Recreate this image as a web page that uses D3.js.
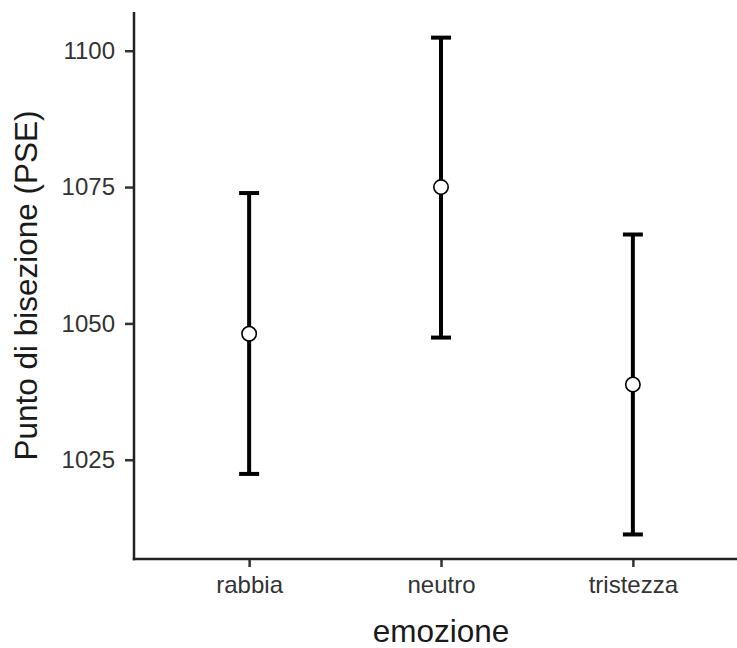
<!DOCTYPE html>
<html>
<head>
<meta charset="utf-8">
<script src="https://cdn.jsdelivr.net/npm/d3@7"></script>
<style>
  body { margin: 0; background: #fff; }
  text { font-family: "Liberation Sans", Arial, sans-serif; }
</style>
</head>
<body>
<svg id="chart" width="737" height="648"></svg>
<script>
// values
var emozioni = ['rabbia', 'neutro', 'tristezza'];
var pse = [1048.1, 1075.0, 1038.8];
var pseLow = [1022.4, 1047.4, 1011.3];
var pseHigh = [1073.9, 1102.4, 1066.3];
var yTicks = [1025, 1050, 1075, 1100];

var svg = d3.select('#chart'),
    pLeft = 134, pTop = 12, pBottom = 559, pRight = 748;

var x = d3.scalePoint().domain(emozioni).range([pLeft, pRight]).padding(0.6);
var y = d3.scaleLinear().domain([1006.8, 1107.1]).range([pBottom, pTop]);

var data = emozioni.map(function(e, i) {
  return { label: e, mean: pse[i], lo: pseLow[i], hi: pseHigh[i] };
});

// axes
var yAxis = svg.append('g')
  .attr('transform', 'translate(' + pLeft + ',0)')
  .call(d3.axisLeft(y).tickValues(yTicks).tickSize(9).tickPadding(10).tickFormat(d3.format('d')));
var xAxis = svg.append('g')
  .attr('transform', 'translate(0,' + pBottom + ')')
  .call(d3.axisBottom(x).tickSize(8).tickPadding(9));

[yAxis, xAxis].forEach(function(ax) {
  ax.select('.domain').remove();
  ax.selectAll('.tick line').attr('stroke', '#333').attr('stroke-width', 2.5);
  ax.selectAll('.tick text')
    .attr('fill', '#333')
    .style('font-size', '24px');
});

svg.append('line')
  .attr('x1', pLeft).attr('x2', pLeft)
  .attr('y1', pTop).attr('y2', pBottom + 1.25)
  .attr('stroke', '#222').attr('stroke-width', 2.5);
svg.append('line')
  .attr('x1', pLeft - 1.25).attr('x2', 737)
  .attr('y1', pBottom).attr('y2', pBottom)
  .attr('stroke', '#222').attr('stroke-width', 2.5);

// error bars
var bars = svg.append('g').selectAll('g').data(data).join('g');
bars.append('line')
  .attr('x1', function(d) { return x(d.label); })
  .attr('x2', function(d) { return x(d.label); })
  .attr('y1', function(d) { return y(d.lo); })
  .attr('y2', function(d) { return y(d.hi); })
  .attr('stroke', '#000').attr('stroke-width', 4);
['lo', 'hi'].forEach(function(k) {
  bars.append('line')
    .attr('x1', function(d) { return x(d.label) - 10; })
    .attr('x2', function(d) { return x(d.label) + 10; })
    .attr('y1', function(d) { return y(d[k]); })
    .attr('y2', function(d) { return y(d[k]); })
    .attr('stroke', '#000').attr('stroke-width', 4);
});
bars.append('circle')
  .attr('cx', function(d) { return x(d.label); })
  .attr('cy', function(d) { return y(d.mean); })
  .attr('r', 7.2)
  .attr('fill', '#fff').attr('stroke', '#000').attr('stroke-width', 1.6);

// titles
svg.append('text')
  .attr('x', (pLeft + pRight) / 2).attr('y', 642)
  .attr('text-anchor', 'middle')
  .style('font-size', '31.5px')
  .attr('fill', '#1a1a1a')
  .text('emozione');
svg.append('text')
  .attr('transform', 'translate(37,' + ((pTop + pBottom) / 2) + ') rotate(-90)')
  .attr('text-anchor', 'middle')
  .style('font-size', '31.5px')
  .attr('fill', '#1a1a1a')
  .text('Punto di bisezione (PSE)');
</script>
</body>
</html>
